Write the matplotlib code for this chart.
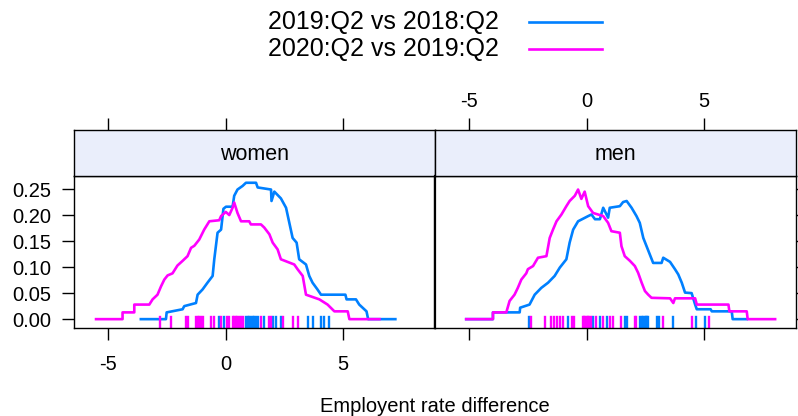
import numpy as np
import matplotlib
matplotlib.use('Agg')
import matplotlib.pyplot as plt
from matplotlib.lines import Line2D

plt.rcParams['font.family'] = ['Liberation Sans', 'DejaVu Sans']
plt.rcParams['axes.unicode_minus'] = False

panels = ['women', 'men']
series = ['2019:Q2 vs 2018:Q2', '2020:Q2 vs 2019:Q2']
colors = ['#0080ff', '#ff00ff']

# density curves (x, density)
women_19_x = [-3.62, -2.55, -2.52, -1.84, -1.77, -1.27, -1.20, -0.99, -0.78, -0.56, -0.49, -0.35,
              -0.20, -0.10, 0.01, 0.29, 0.36, 0.50, 0.72, 0.86, 1.29, 1.36, 1.93, 1.95, 2.07, 2.35,
              2.57, 2.71, 2.85, 3.02, 3.13, 3.42, 3.56, 3.70, 3.91, 4.06, 5.10, 5.15, 5.55, 5.69,
              6.00, 6.07, 7.23]
women_19_y = [0, 0, 0.013, 0.019, 0.025, 0.031, 0.047, 0.057, 0.070, 0.083, 0.115, 0.166,
              0.172, 0.212, 0.216, 0.216, 0.237, 0.249, 0.256, 0.262, 0.262, 0.253, 0.249, 0.227,
              0.245, 0.232, 0.214, 0.185, 0.156, 0.147, 0.115, 0.105, 0.083, 0.070, 0.057, 0.047,
              0.047, 0.038, 0.038, 0.028, 0.015, 0.0, 0.0]

women_20_x = [-5.53, -4.40, -4.40, -3.90, -3.90, -3.26, -3.12, -2.91, -2.76, -2.62, -2.48, -2.27,
              -2.06, -1.84, -1.63, -1.48, -1.34, -1.13, -0.92, -0.70, -0.28, -0.20, 0.00, 0.15,
              0.29, 0.36, 0.50, 0.65, 1.00, 1.07, 1.50, 1.64, 1.86, 2.00, 2.21, 2.35, 2.92, 3.06,
              3.28, 3.42, 3.99, 4.34, 4.63, 5.20, 5.27, 6.55]
women_20_y = [0, 0, 0.013, 0.013, 0.028, 0.028, 0.038, 0.047, 0.063, 0.076, 0.084, 0.088,
              0.103, 0.112, 0.121, 0.137, 0.141, 0.153, 0.172, 0.188, 0.190, 0.198, 0.206, 0.200,
              0.214, 0.224, 0.204, 0.188, 0.188, 0.182, 0.182, 0.176, 0.163, 0.147, 0.134, 0.115,
              0.105, 0.096, 0.083, 0.047, 0.038, 0.028, 0.015, 0.015, 0.0, 0.0]

men_19_x = [-5.14, -4.0, -4.0, -2.86, -2.84, -2.44, -2.22, -1.94, -1.65, -1.37, -1.15, -0.87,
            -0.73, -0.58, -0.37, 0.06, 0.20, 0.35, 0.56, 0.70, 0.91, 0.98, 1.41, 1.55, 1.70,
            1.91, 2.12, 2.26, 2.41, 2.55, 2.69, 2.83, 3.19, 3.26, 3.55, 3.76, 3.90, 4.05, 4.19,
            4.47, 4.62, 4.69, 5.28, 5.33, 6.18, 6.22, 6.82]
men_19_y = [0, 0, 0.013, 0.013, 0.022, 0.028, 0.047, 0.060, 0.070, 0.083, 0.099, 0.115,
            0.147, 0.172, 0.188, 0.198, 0.201, 0.192, 0.192, 0.214, 0.195, 0.214, 0.217, 0.225,
            0.227, 0.214, 0.198, 0.185, 0.156, 0.140, 0.124, 0.108, 0.108, 0.118, 0.110, 0.096,
            0.086, 0.070, 0.051, 0.050, 0.028, 0.019, 0.019, 0.015, 0.015, 0.0, 0.0]

men_20_x = [-5.14, -4.0, -4.0, -3.43, -3.29, -3.08, -2.94, -2.79, -2.58, -2.51, -2.29, -2.08,
            -1.72, -1.58, -1.44, -1.29, -1.08, -0.87, -0.73, -0.51, -0.37, -0.23, -0.09, 0.06,
            0.27, 0.70, 0.91, 1.05, 1.41, 1.48, 1.62, 1.84, 2.05, 2.19, 2.34, 2.48, 2.62, 2.76,
            3.55, 3.69, 3.76, 4.62, 4.69, 6.04, 6.08, 6.82, 6.86, 8.03]
men_20_y = [0, 0, 0.013, 0.013, 0.035, 0.047, 0.060, 0.076, 0.088, 0.096, 0.102, 0.118,
            0.121, 0.156, 0.172, 0.188, 0.201, 0.217, 0.227, 0.237, 0.249, 0.231, 0.245, 0.217,
            0.204, 0.198, 0.185, 0.169, 0.166, 0.140, 0.121, 0.112, 0.102, 0.089, 0.070, 0.054,
            0.047, 0.041, 0.040, 0.031, 0.040, 0.040, 0.028, 0.028, 0.015, 0.015, 0.0, 0.0]

# rug (observed differences)
women_19_rug = [-0.28, -0.06, 0.86, 0.93, 1.00, 1.07, 1.14, 1.22, 1.29, 1.36, 1.64, 2.03, 2.14,
                2.35, 3.52, 3.70, 4.06, 4.20, 4.41]
women_20_rug = [-2.81, -2.34, -1.70, -1.60, -1.27, -1.20, -1.13, -1.06, -0.99, -0.63, -0.49,
                -0.20, 0.04, 0.15, 0.29, 0.36, 0.43, 0.50, 0.57, 0.64, 0.72, 1.50, 1.83, 1.93,
                2.45, 2.85, 3.09]
men_19_rug = [-2.46, -0.80, 0.27, 0.56, 0.87, 1.62, 1.70, 2.29, 2.35, 2.41, 2.47, 2.52, 2.58,
              2.62, 2.98, 3.09, 3.69, 4.66, 5.04]
men_20_rug = [-2.36, -1.79, -1.51, -1.40, -1.27, -1.15, -1.01, -0.65, -0.56, -0.16, -0.11,
              -0.06, 0.00, 0.06, 0.11, 0.16, 0.41, 0.70, 1.01, 1.12, 1.44, 2.05, 2.12, 3.23,
              4.47, 5.23]

curves = {
    'women': [(women_19_x, women_19_y, women_19_rug), (women_20_x, women_20_y, women_20_rug)],
    'men': [(men_19_x, men_19_y, men_19_rug), (men_20_x, men_20_y, men_20_rug)],
}

xticks = [-5, 0, 5]
yticks = [0.0, 0.05, 0.10, 0.15, 0.20, 0.25]

W, H = 798, 416
fig = plt.figure(figsize=(W / 100, H / 100), dpi=100)

def fx(px):
    return px / W

def fy(py):
    return 1 - py / H

left0, mid, right0 = 74, 435, 796
ptop, pbot, stop = 176, 328, 130
xlim = (-6.47, 8.92)
ylim = (-0.017, 0.275)
fs = 14.5

for i, name in enumerate(panels):
    x0 = left0 if i == 0 else mid
    x1 = mid if i == 0 else right0
    ax = fig.add_axes([fx(x0), fy(pbot), fx(x1 - x0), (pbot - ptop) / H])
    st = fig.add_axes([fx(x0), fy(ptop), fx(x1 - x0), (ptop - stop) / H])

    for (cx, cy, rug), col in zip(curves[name], colors):
        ax.plot(cx, cy, color=col, lw=1.9)
        for r in rug:
            ax.plot([r, r], [0, 0.07], color=col, lw=1.7,
                    transform=ax.get_xaxis_transform())

    ax.set_xlim(*xlim)
    ax.set_ylim(*ylim)
    ax.set_xticks(xticks)
    ax.set_yticks(yticks)
    ax.yaxis.set_major_formatter(plt.FormatStrFormatter('%.2f'))
    ax.tick_params(direction='out', length=8.5, width=1.0, labelsize=fs, pad=11)
    if i == 0:
        ax.tick_params(axis='y', left=True, right=False, labelleft=True, pad=8)
        ax.spines['right'].set_linewidth(1.6)
    else:
        ax.tick_params(axis='y', left=False, right=True, labelleft=False, labelright=False)
        ax.tick_params(axis='x', labelbottom=False)
        ax.spines['left'].set_linewidth(1.6)
    for k, sp in ax.spines.items():
        if sp.get_linewidth() < 1.5:
            sp.set_linewidth(1.0)

    st.set_facecolor('#eaeefb')
    st.set_xlim(*xlim)
    st.set_yticks([])
    st.set_xticks(xticks)
    st.xaxis.tick_top()
    st.tick_params(axis='x', direction='out', length=8.5, width=1.0, labelsize=fs, pad=5,
                   labeltop=(i == 1))
    for sp in st.spines.values():
        sp.set_linewidth(1.0)
    st.text(0.5, 0.47, name, transform=st.transAxes, ha='center', va='center', fontsize=15.5)

fig.text(fx(435), fy(407), 'Employent rate difference', ha='center', va='center', fontsize=fs)

# legend
for k, (lab, col) in enumerate(zip(series, colors)):
    yy = fy(22 + 27 * k)
    fig.text(fx(499), yy, lab, ha='right', va='center', fontsize=18)
    fig.add_artist(Line2D([fx(529), fx(602)], [yy, yy], color=col, lw=1.9,
                          transform=fig.transFigure))

fig.savefig('out.png', dpi=100)
